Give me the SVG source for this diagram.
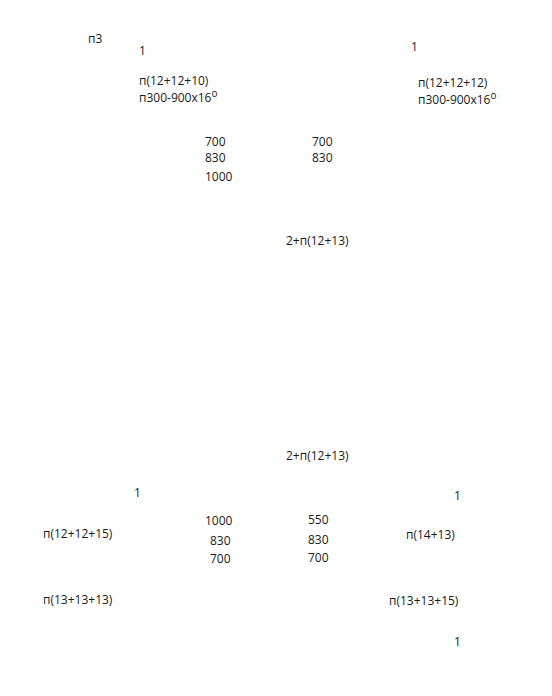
<svg xmlns="http://www.w3.org/2000/svg" width="552" height="696" viewBox="0 0 552 696">
<style>
text{font-family:"Open Sans","Noto Sans",sans-serif;font-size:12px;fill:#1a1a1a}
.sup{font-size:10px}
</style>
<rect width="552" height="696" fill="#fff"/>
<g id="top-left">
<text x="88" y="43">п3</text>
<text x="139" y="55">1</text>
<text x="139" y="85">п(12+12+10)</text>
<text x="139" y="102">п300-900x16<tspan class="sup" dy="-5">o</tspan></text>
</g>
<g id="top-right">
<text x="411" y="51">1</text>
<text x="418" y="87">п(12+12+12)</text>
<text x="418" y="104">п300-900x16<tspan class="sup" dy="-5">o</tspan></text>
</g>
<g id="mid-top">
<text x="205" y="146">700</text>
<text x="205" y="162">830</text>
<text x="205" y="181">1000</text>
<text x="312" y="146">700</text>
<text x="312" y="162">830</text>
<text x="286" y="245">2+п(12+13)</text>
</g>
<g id="mid-bottom">
<text x="286" y="460">2+п(12+13)</text>
</g>
<g id="bottom-left">
<text x="134" y="497">1</text>
<text x="43" y="538">п(12+12+15)</text>
<text x="43" y="604">п(13+13+13)</text>
<text x="205" y="525">1000</text>
<text x="210" y="545">830</text>
<text x="210" y="563">700</text>
</g>
<g id="bottom-right">
<text x="454" y="500">1</text>
<text x="308" y="524">550</text>
<text x="308" y="544">830</text>
<text x="308" y="562">700</text>
<text x="406" y="539">п(14+13)</text>
<text x="389" y="605">п(13+13+15)</text>
<text x="454" y="646">1</text>
</g>
<g id="connectors"></g>
</svg>
